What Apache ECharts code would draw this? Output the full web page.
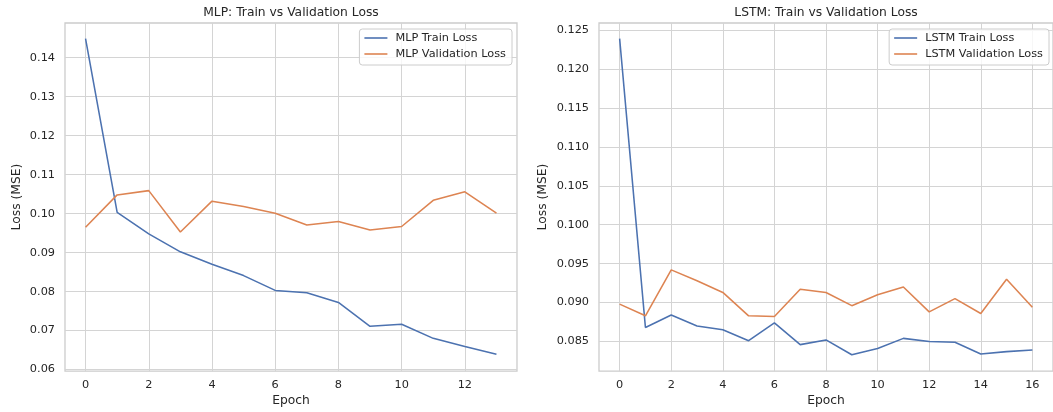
<!DOCTYPE html>
<html>
<head>
<meta charset="utf-8">
<script src="https://cdn.jsdelivr.net/npm/echarts@6/dist/echarts.min.js"></script>
<style>
html,body{margin:0;padding:0;background:#fff;}
#c{width:1053px;height:412px;}
</style>
</head>
<body>
<div id="c"></div>
<script>
// ---- data ----
const mlpEpochs = [0,1,2,3,4,5,6,7,8,9,10,11,12,13];
const mlpTrain = [0.1449,0.1003,0.0948,0.0902,0.0870,0.0841,0.0803,0.0797,0.0772,0.0711,0.0716,0.0680,0.0659,0.0639];
const mlpVal   = [0.0965,0.1048,0.1059,0.0953,0.1032,0.1018,0.1001,0.0971,0.0980,0.0958,0.0967,0.1034,0.1056,0.1001];

const lstmEpochs = [0,1,2,3,4,5,6,7,8,9,10,11,12,13,14,15,16];
const lstmTrain = [0.1239,0.0868,0.0884,0.0870,0.0865,0.0851,0.0874,0.0846,0.0852,0.0833,0.0841,0.0854,0.0850,0.0849,0.0834,0.0837,0.0839];
const lstmVal   = [0.0898,0.0883,0.0942,0.0928,0.0913,0.0883,0.0882,0.0917,0.0913,0.0896,0.0910,0.0920,0.0888,0.0905,0.0886,0.0930,0.0894];

const mlpXTicks = [0,2,4,6,8,10,12];
const mlpYTicks = [0.06,0.07,0.08,0.09,0.10,0.11,0.12,0.13,0.14];
const lstmXTicks = [0,2,4,6,8,10,12,14,16];
const lstmYTicks = [0.085,0.090,0.095,0.100,0.105,0.110,0.115,0.120,0.125];

const titles = ['MLP: Train vs Validation Loss','LSTM: Train vs Validation Loss'];
const seriesNames = ['MLP Train Loss','MLP Validation Loss','LSTM Train Loss','LSTM Validation Loss'];

// ---- style ----
const BLUE = '#4C72B0', ORANGE = '#DD8452';
const FONT = 'DejaVu Sans';
const TXT = '#262626';
const GRIDC = '#d4d4d4';

function pairs(xs, ys){ return xs.map((x,i)=>[x, ys[i]]); }

function xAxis(gi, min, max, ticks){
  return {
    type:'value', gridIndex:gi, min:min, max:max,
    axisLine:{show:false},
    axisTick:{show:false, customValues:ticks},
    axisLabel:{customValues:ticks, color:TXT, fontFamily:FONT, fontSize:11.3, margin:8,
      formatter:v=>String(Math.round(v))},
    splitLine:{show:true, lineStyle:{color:GRIDC, width:1}},
    name:'Epoch', nameLocation:'middle', nameGap:23,
    nameTextStyle:{color:TXT, fontFamily:FONT, fontSize:12.3}
  };
}
function yAxis(gi, min, max, ticks, dec, gap){
  return {
    type:'value', gridIndex:gi, min:min, max:max,
    axisLine:{show:false},
    axisTick:{show:false, customValues:ticks},
    axisLabel:{customValues:ticks, color:TXT, fontFamily:FONT, fontSize:11.3, margin:10,
      formatter:v=>v.toFixed(dec)},
    splitLine:{show:true, lineStyle:{color:GRIDC, width:1}},
    name:'Loss (MSE)', nameLocation:'middle', nameGap:gap, nameRotate:90,
    nameTextStyle:{color:TXT, fontFamily:FONT, fontSize:12.3}
  };
}

const legendCommon = {
  orient:'vertical', icon:'rect', itemWidth:23, itemHeight:1.6, itemGap:4,
  backgroundColor:'rgba(255,255,255,0.8)', borderColor:'#cccccc', borderWidth:1, borderRadius:3,
  padding:[3,6,5,5],
  textStyle:{color:TXT, fontFamily:FONT, fontSize:11.3, lineHeight:12, padding:[0,0,0,3]}
};

const chart = echarts.init(document.getElementById('c'));
chart.setOption({
  animation:false,
  backgroundColor:'#ffffff',
  title:[
    {text:titles[0], left:291, top:7, textAlign:'center', padding:0,
     textStyle:{color:TXT, fontFamily:FONT, fontSize:12.3, fontWeight:'normal'}},
    {text:titles[1], left:826, top:7, textAlign:'center', padding:0,
     textStyle:{color:TXT, fontFamily:FONT, fontSize:12.3, fontWeight:'normal'}}
  ],
  legend:[
    Object.assign({}, legendCommon, {data:[seriesNames[0],seriesNames[1]], right:541, top:29}),
    Object.assign({}, legendCommon, {data:[seriesNames[2],seriesNames[3]], right:4, top:29})
  ],
  grid:[
    {left:65, right:536, top:23, bottom:40, show:true, borderColor:'#cccccc', borderWidth:1.3, backgroundColor:'#fff'},
    {left:599, right:0, top:23, bottom:40, show:true, borderColor:'#cccccc', borderWidth:1.3, backgroundColor:'#fff'}
  ],
  xAxis:[
    xAxis(0, -0.65, 13.65, mlpXTicks),
    xAxis(1, -0.8, 16.8, lstmXTicks)
  ],
  yAxis:[
    yAxis(0, 0.0596, 0.1489, mlpYTicks, 2, 42),
    yAxis(1, 0.0812, 0.1259, lstmYTicks, 3, 50)
  ],
  series:[
    {name:seriesNames[0], type:'line', xAxisIndex:0, yAxisIndex:0, data:pairs(mlpEpochs, mlpTrain),
     showSymbol:false, color:BLUE, lineStyle:{width:1.55, color:BLUE}},
    {name:seriesNames[1], type:'line', xAxisIndex:0, yAxisIndex:0, data:pairs(mlpEpochs, mlpVal),
     showSymbol:false, color:ORANGE, lineStyle:{width:1.55, color:ORANGE}},
    {name:seriesNames[2], type:'line', xAxisIndex:1, yAxisIndex:1, data:pairs(lstmEpochs, lstmTrain),
     showSymbol:false, color:BLUE, lineStyle:{width:1.55, color:BLUE}},
    {name:seriesNames[3], type:'line', xAxisIndex:1, yAxisIndex:1, data:pairs(lstmEpochs, lstmVal),
     showSymbol:false, color:ORANGE, lineStyle:{width:1.55, color:ORANGE}}
  ]
});
</script>
</body>
</html>
